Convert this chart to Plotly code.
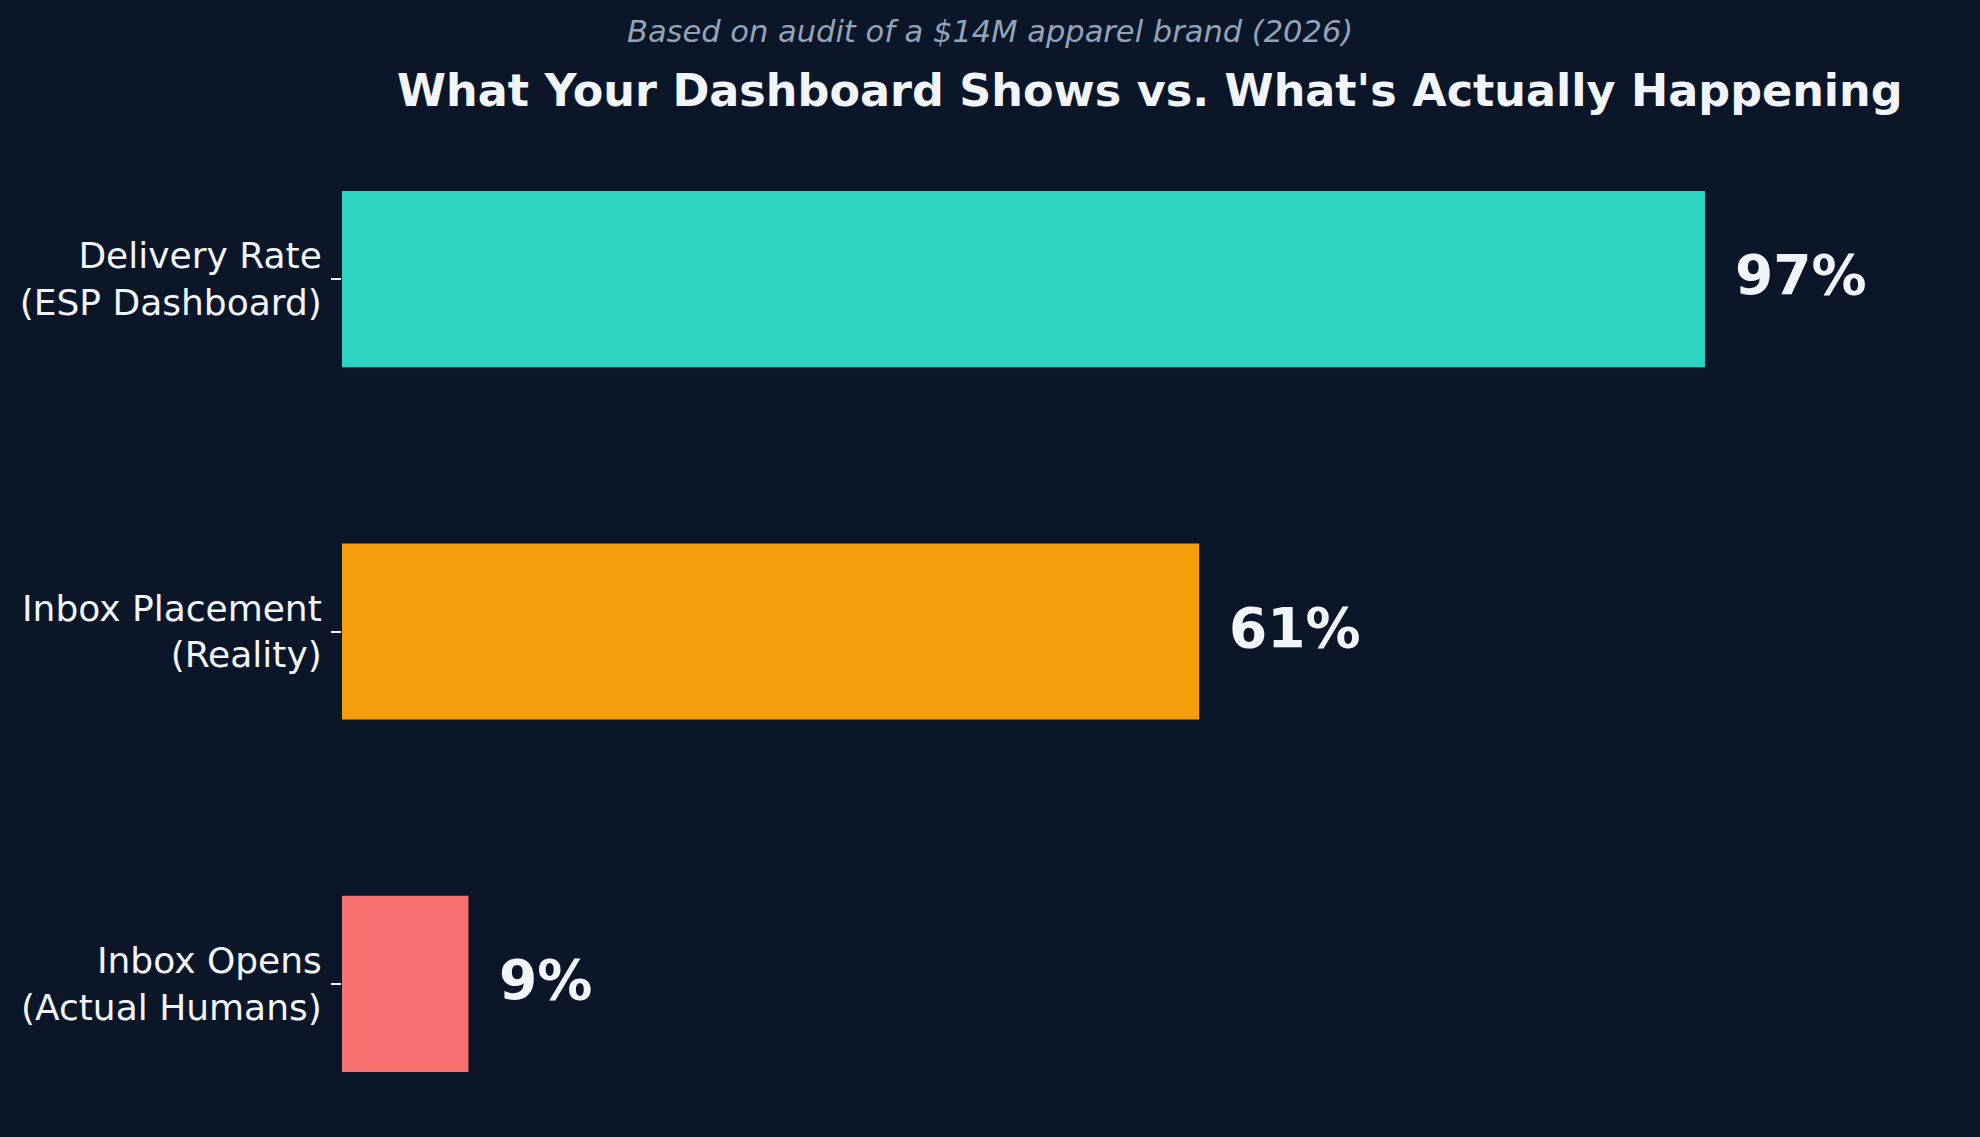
import plotly.graph_objects as go

categories = ["Delivery Rate<br>(ESP Dashboard)", "Inbox Placement<br>(Reality)", "Inbox Opens<br>(Actual Humans)"]
values = [97, 61, 9]
value_labels = ["97%", "61%", "9%"]
colors = ["#2dd4bf", "#f59e0b", "#f87171"]

BG = "#0b1628"
TXT = "#f1f5f9"
FONT = "DejaVu Sans"

fig = go.Figure()
fig.add_trace(go.Bar(
    x=values, y=categories, orientation="h",
    marker=dict(color=colors, line=dict(width=0)),
    width=0.5, hoverinfo="skip",
))

for v, c, lab in zip(values, categories, value_labels):
    fig.add_annotation(x=v + 2.0, y=c, text=f"<b>{lab}</b>", showarrow=False,
                       xanchor="left", yanchor="middle", yshift=4,
                       font=dict(family=FONT, size=55, color=TXT))

fig.add_annotation(xref="paper", yref="paper", x=0.5, y=1.0578,
                   text="<b>What Your Dashboard Shows vs. What's Actually Happening</b>",
                   showarrow=False, xanchor="center", yanchor="middle",
                   font=dict(family=FONT, size=44.5, color=TXT))
fig.add_annotation(xref="paper", yref="paper", x=0.401, y=1.1187,
                   text="<i>Based on audit of a $14M apparel brand (2026)</i>",
                   showarrow=False, xanchor="center", yanchor="middle",
                   font=dict(family=FONT, size=30.5, color="#94a3b8"))

fig.update_layout(
    width=1980, height=1137,
    paper_bgcolor=BG, plot_bgcolor=BG,
    margin=dict(l=342, r=22, t=147, b=21),
    showlegend=False,
    font=dict(family=FONT, color=TXT),
    xaxis=dict(range=[0, 115], visible=False, showgrid=False, zeroline=False),
    yaxis=dict(type="category", range=[2.375, -0.375], showgrid=False, zeroline=False,
               showline=False, ticks="outside", ticklen=10, tickwidth=1.5,
               tickcolor=TXT, ticklabelstandoff=2,
               tickfont=dict(family=FONT, size=36, color=TXT)),
)

fig.write_html("out.html")
